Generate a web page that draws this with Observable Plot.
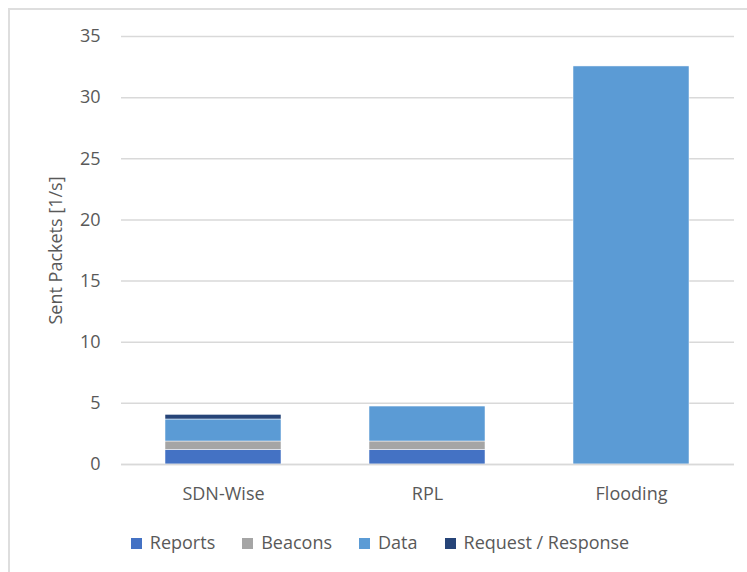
<!DOCTYPE html>
<html><head><meta charset="utf-8">
<script src="https://cdn.jsdelivr.net/npm/d3@7"></script>
<script src="https://cdn.jsdelivr.net/npm/@observablehq/plot@0.6"></script>
<style>
body{margin:0;background:#fff;font-family:"Open Sans",sans-serif;overflow:hidden;width:747px;height:572px;position:relative}
#frame{position:absolute;left:8px;top:8px;width:800px;height:600px;border:2px solid #DEDEDE;box-sizing:border-box}
#chart{position:absolute;left:0;top:0}
#legend{position:absolute;left:0;width:760px;top:530px;line-height:24px;display:flex;justify-content:center;gap:27px;font-size:18px;color:#595959}
#legend span.sw{display:inline-block;width:11px;height:11px;margin-right:8px;vertical-align:0px}
</style></head>
<body>
<div id="frame"></div>
<div id="chart"></div>
<div id="legend"></div>
<script>
const categories = ["SDN-Wise", "RPL", "Flooding"];
const series = ["Reports", "Beacons", "Data", "Request / Response"];
const colors = ["#4472C4", "#A5A5A5", "#5B9BD5", "#264478"];
const reports = [1.2, 1.2, 0];
const beacons = [0.68, 0.68, 0];
const dataVals = [1.8, 2.86, 32.55];
const requests = [0.38, 0, 0];
const yTicks = [0, 5, 10, 15, 20, 25, 30, 35];

const valuesBySeries = [reports, beacons, dataVals, requests];
const rows = [];
series.forEach((s, si) => categories.forEach((c, ci) => rows.push({cat: c, series: s, value: valuesBySeries[si][ci]})));

const chart = Plot.plot({
  width: 747, height: 520,
  marginTop: 36, marginBottom: 56, marginLeft: 121, marginRight: 13,
  style: {fontFamily: "'Open Sans', sans-serif", fontSize: "18px", color: "#595959", background: "transparent"},
  x: {domain: categories, paddingInner: 0.43, paddingOuter: 0.215, label: null},
  y: {domain: [0, 35], ticks: yTicks, label: null},
  color: {domain: series, range: colors},
  marks: [
    Plot.gridY(yTicks, {stroke: "#D9D9D9", strokeOpacity: 1, strokeWidth: 1.5}),
    Plot.axisY(yTicks, {tickSize: 0, tickPadding: 21, label: "Sent Packets [1/s]", labelAnchor: "center", labelArrow: "none", labelOffset: 72, fontSize: 18}),
    Plot.axisX({tickSize: 0, tickPadding: 23, label: null, fontSize: 18}),
    Plot.barY(rows, Plot.stackY({x: "cat", y: "value", fill: "series", order: series, stroke: "#fff", strokeWidth: 0.5})),
    Plot.ruleY([0], {stroke: "#D9D9D9", strokeWidth: 1.5})
  ]
});
document.getElementById("chart").appendChild(chart);
const lg = document.getElementById("legend");
series.forEach((s, i) => {
  const d = document.createElement("div");
  d.innerHTML = `<span class="sw" style="background:${colors[i]}"></span>${s}`;
  lg.appendChild(d);
});
</script>
</body></html>
